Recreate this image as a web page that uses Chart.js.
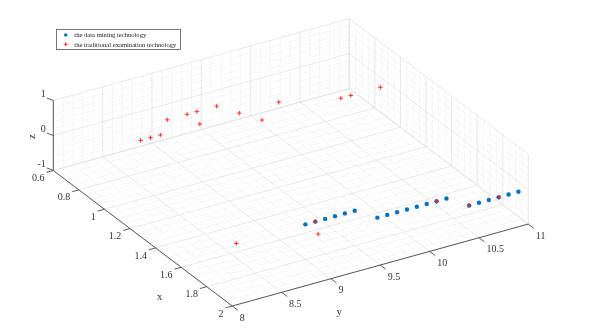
<!DOCTYPE html>
<html>
<head>
<meta charset="utf-8">
<script src="https://cdn.jsdelivr.net/npm/chart.js@4.4.1/dist/chart.umd.min.js"></script>
<style>
  html, body { margin: 0; padding: 0; background: #fff; }
  #wrap { width: 590px; height: 336px; position: relative; }
</style>
</head>
<body>
<div id="wrap"><canvas id="myChart"></canvas></div>
<script>
// Axis limits and tick labels (as in the MATLAB figure)
const xLim = [0.6, 2];
const yLim = [8, 11];
const zLim = [-1, 1];
const xTicks = [0.6, 0.8, 1, 1.2, 1.4, 1.6, 1.8, 2];
const yTicks = [8, 8.5, 9, 9.5, 10, 10.5, 11];
const zTicks = [-1, 0, 1];
const xMinorPerMajor = 4;
const yMinorPerMajor = 5;
const zMinorPerMajor = 5;

// series: the data mining technology (blue dots)
const miningX = [1.8, 1.8, 1.8, 1.8, 1.8, 1.8, 1.9, 1.9, 1.9, 1.9, 1.9, 1.9, 1.9, 1.9, 2, 2, 2, 2, 2, 2];
const miningY = [9, 9.1, 9.2, 9.3, 9.4, 9.5, 9.6, 9.7, 9.8, 9.9, 10, 10.1, 10.2, 10.3, 10.4, 10.5, 10.6, 10.7, 10.8, 10.9];
const miningZ = [0, 0, 0, 0, 0, 0, 0, 0, 0, 0, 0, 0, 0, 0, 0, 0, 0, 0, 0, 0];

// series: the traditional examination technology (red plus)
const tradX = [1.8, 0.82, 0.82, 0.82, 0.72, 1.9, 1.8, 0.72, 0.82, 0.72, 0.72, 0.82, 0.92, 0.82, 1.9, 2, 0.92, 0.92, 2, 0.92];
const tradY = [8.3, 8.6, 8.7, 8.8, 9, 9, 9.1, 9.2, 9.2, 9.3, 9.5, 9.6, 9.7, 10, 10.2, 10.4, 10.5, 10.6, 10.7, 10.9];
const tradZ = [0, 0, 0, 0, 0, 0, 0, 0, 0, 0, 0, 0, 0, 0, 0, 0, 0, 0, 0, 0];

// camera (orthographic), the z box is squashed like the original
const view = { azimuth: 58.84, elevation: 27.25, zAspect: 0.2276 };

function project(x, y, z) {
  const u = (x - xLim[0]) / (xLim[1] - xLim[0]);
  const v = (y - yLim[0]) / (yLim[1] - yLim[0]);
  const w = (z - zLim[0]) / (zLim[1] - zLim[0]) * view.zAspect;
  const a = view.azimuth * Math.PI / 180, e = view.elevation * Math.PI / 180;
  return {
    x: u * Math.cos(a) + v * Math.sin(a),
    y: -u * Math.sin(e) * Math.sin(a) + v * Math.sin(e) * Math.cos(a) + w * Math.cos(e)
  };
}

function toPoints(xs, ys, zs) {
  return xs.map((x, i) => project(x, ys[i], zs[i]));
}

// extents of the projected box, used as the scale limits
const corners = [];
[xLim[0], xLim[1]].forEach(x => [yLim[0], yLim[1]].forEach(y => [zLim[0], zLim[1]].forEach(z => corners.push(project(x, y, z)))));
const sceneXMin = Math.min(...corners.map(p => p.x)), sceneXMax = Math.max(...corners.map(p => p.x));
const sceneYMin = Math.min(...corners.map(p => p.y)), sceneYMax = Math.max(...corners.map(p => p.y));

function subdivide(ticks, n) {
  const out = [];
  for (let i = 0; i < ticks.length - 1; i++) {
    const step = (ticks[i + 1] - ticks[i]) / n;
    for (let k = 1; k < n; k++) out.push(ticks[i] + k * step);
  }
  return out;
}

const serif = '"Liberation Serif", "Times New Roman", serif';

const box3d = {
  id: 'box3d',
  beforeDatasetsDraw(chart) {
    const ctx = chart.ctx;
    const sx = chart.scales.x, sy = chart.scales.y;
    const px = (x, y, z) => {
      const p = project(x, y, z);
      return [sx.getPixelForValue(p.x), sy.getPixelForValue(p.y)];
    };
    const seg = (a, b) => {
      ctx.moveTo(a[0], a[1]);
      ctx.lineTo(b[0], b[1]);
    };
    const [x0, x1] = xLim, [y0, y1] = yLim, [z0, z1] = zLim;

    function gridLines(xs, ys, zs) {
      ctx.beginPath();
      xs.forEach(x => { seg(px(x, y0, z0), px(x, y1, z0)); seg(px(x, y1, z0), px(x, y1, z1)); });
      ys.forEach(y => { seg(px(x0, y, z0), px(x1, y, z0)); seg(px(x0, y, z0), px(x0, y, z1)); });
      zs.forEach(z => { seg(px(x0, y0, z), px(x0, y1, z)); seg(px(x0, y1, z), px(x1, y1, z)); });
      ctx.stroke();
    }

    ctx.save();
    ctx.lineWidth = 0.6;
    ctx.strokeStyle = '#f0f0f0';
    gridLines(subdivide(xTicks, xMinorPerMajor), subdivide(yTicks, yMinorPerMajor), subdivide(zTicks, zMinorPerMajor));
    ctx.strokeStyle = '#dedede';
    ctx.lineWidth = 0.7;
    gridLines(xTicks, yTicks, zTicks);

    // axis lines
    ctx.strokeStyle = '#4a4a4a';
    ctx.lineWidth = 0.9;
    ctx.beginPath();
    seg(px(x0, y0, z0), px(x1, y0, z0));
    seg(px(x1, y0, z0), px(x1, y1, z0));
    seg(px(x0, y0, z0), px(x0, y0, z1));

    // tick marks, pointing out of the box
    const unit = (a, b) => {
      const dx = b[0] - a[0], dy = b[1] - a[1], l = Math.hypot(dx, dy);
      return [dx / l, dy / l];
    };
    const yDir = unit(px(x0, y0, z0), px(x0, y1, z0));
    const xDir = unit(px(x0, y0, z0), px(x1, y0, z0));
    const zTickDir = [-0.93, -0.37];
    const tl = 7;
    xTicks.forEach(x => { const p = px(x, y0, z0); seg(p, [p[0] - yDir[0] * tl, p[1] - yDir[1] * tl]); });
    yTicks.forEach(y => { const p = px(x1, y, z0); seg(p, [p[0] + xDir[0] * tl, p[1] + xDir[1] * tl]); });
    zTicks.forEach(z => { const p = px(x0, y0, z); seg(p, [p[0] + zTickDir[0] * tl, p[1] + zTickDir[1] * tl]); });
    ctx.stroke();

    // tick labels
    ctx.fillStyle = '#333';
    ctx.font = '10px ' + serif;
    ctx.textBaseline = 'middle';
    ctx.textAlign = 'right';
    xTicks.forEach(x => { const p = px(x, y0, z0); ctx.fillText(String(x), p[0] - 8.7, p[1] + 8); });
    zTicks.forEach(z => { const p = px(x0, y0, z); ctx.fillText(String(z), p[0] - 7.5, p[1] - 6); });
    ctx.textAlign = 'left';
    yTicks.forEach(y => { const p = px(x1, y, z0); ctx.fillText(String(y), p[0] + 7.5, p[1] + 12); });

    // axis titles
    ctx.font = '11px ' + serif;
    ctx.textAlign = 'center';
    const xm = px((x0 + x1) / 2, y0, z0);
    ctx.fillText('x', xm[0] + 17, xm[1] + 59);
    const ym = px(x1, (y0 + y1) / 2, z0);
    ctx.fillText('y', ym[0] - 41, ym[1] + 47);
    const zm = px(x0, y0, (z0 + z1) / 2);
    ctx.translate(zm[0] - 21, zm[1] + 1);
    ctx.rotate(-Math.PI / 2);
    ctx.fillText('z', 0, 0);
    ctx.restore();
  },
  afterDraw(chart) {
    // legend box in the upper left, like the MATLAB legend
    const ctx = chart.ctx;
    const left = 56, top = 29, w = 124, h = 20;
    ctx.save();
    ctx.fillStyle = '#fff';
    ctx.fillRect(left, top, w, h);
    ctx.strokeStyle = '#555';
    ctx.lineWidth = 0.8;
    ctx.strokeRect(left + 0.5, top + 0.5, w, h);
    ctx.font = '6.6px ' + serif;
    ctx.textBaseline = 'middle';
    ctx.textAlign = 'left';
    chart.data.datasets.forEach((ds, i) => {
      const cy = top + 6 + i * 9.3, cx = left + 9.7;
      if (ds.pointStyle === 'circle') {
        ctx.fillStyle = ds.backgroundColor;
        ctx.beginPath();
        ctx.arc(cx, cy, 1.7, 0, Math.PI * 2);
        ctx.fill();
      } else {
        ctx.strokeStyle = ds.borderColor;
        ctx.lineWidth = 0.9;
        ctx.beginPath();
        ctx.moveTo(cx - 2, cy); ctx.lineTo(cx + 2, cy);
        ctx.moveTo(cx, cy - 2); ctx.lineTo(cx, cy + 2);
        ctx.stroke();
      }
      ctx.fillStyle = '#1a1a1a';
      ctx.fillText(ds.label, left + 18.3, cy + 0.5);
    });
    ctx.restore();
  }
};

new Chart(document.getElementById('myChart'), {
  type: 'scatter',
  data: {
    datasets: [
      {
        label: 'the data mining technology',
        data: toPoints(miningX, miningY, miningZ),
        pointStyle: 'circle',
        pointRadius: 2.2,
        backgroundColor: '#0072BD',
        borderWidth: 0,
        order: 1
      },
      {
        label: 'the traditional examination technology',
        data: toPoints(tradX, tradY, tradZ),
        pointStyle: 'cross',
        pointRadius: 2.3,
        borderColor: '#FF2020',
        backgroundColor: '#FF2020',
        borderWidth: 0.9,
        order: 0
      }
    ]
  },
  options: {
    responsive: true,
    maintainAspectRatio: false,
    animation: false,
    layout: { padding: { left: 53.3, right: 61.7, top: 18.6, bottom: 30 } },
    scales: {
      x: { type: 'linear', display: false, min: sceneXMin, max: sceneXMax },
      y: { type: 'linear', display: false, min: sceneYMin, max: sceneYMax }
    },
    plugins: {
      legend: { display: false },
      tooltip: { enabled: false }
    }
  },
  plugins: [box3d]
});
</script>
</body>
</html>
